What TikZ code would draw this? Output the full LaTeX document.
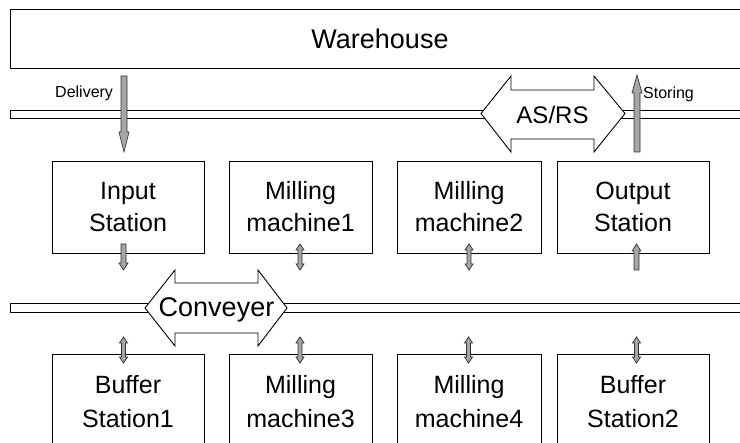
\documentclass[tikz,border=0pt]{standalone}
\usepackage{fontspec}
\setmainfont{Liberation Sans}
\definecolor{arrowgray}{RGB}{166,166,166}
\begin{document}
\begin{tikzpicture}[x=1pt,y=-1pt,
  box/.style={draw,line width=0.9pt,fill=white,inner sep=0pt,align=center},
  toptext/.style={font=\fontsize{25}{32}\selectfont},
  bottext/.style={font=\fontsize{25}{34}\selectfont},
  rail/.style={draw,line width=0.9pt,fill=white},
  bigarrow/.style={draw,line width=0.9pt,fill=white,line join=miter},
  blk/.style={draw=black!80,line width=0.7pt,fill=arrowgray},
  small/.style={font=\fontsize{16}{18}\selectfont,inner sep=0pt}]
\useasboundingbox (0,0) rectangle (740,443);
\newcommand\sarrow[6]{\filldraw[blk] (#1-#5,#2) -- (#1-#5,#3) -- (#1-#6,#3) -- (#1,#4) -- (#1+#6,#3) -- (#1+#5,#3) -- (#1+#5,#2) -- cycle;}
\newcommand\darrow[7]{\filldraw[blk] (#1,#2) -- (#1+#7,#3) -- (#1+#6,#3) -- (#1+#6,#4) -- (#1+#7,#4) -- (#1,#5) -- (#1-#7,#4) -- (#1-#6,#4) -- (#1-#6,#3) -- (#1-#7,#3) -- cycle;}

% warehouse
\node[box,minimum width=740,minimum height=59,font=\fontsize{27}{30}\selectfont] (wh) at (380,38.5) {Warehouse};

% rails
\draw[rail] (10,110) rectangle (750,118.5);
\draw[rail] (10,303.5) rectangle (750,312);

% AS/RS
\draw[bigarrow] (481,113.5) -- (511,76) -- (511,90) -- (594,90) -- (594,76) -- (625,113.5) -- (594,152) -- (594,139) -- (511,139) -- (511,152) -- cycle;
\node[anchor=base,inner sep=0pt,font=\fontsize{24}{28}\selectfont] (asrs) at (552.5,123.3) {AS/RS};

% Conveyer
\draw[bigarrow] (145,308) -- (175,270) -- (175,283) -- (258,283) -- (258,270) -- (287,308) -- (258,346) -- (258,333) -- (175,333) -- (175,346) -- cycle;
\node[anchor=base,inner sep=0pt,font=\fontsize{27}{30}\selectfont] (conv) at (216.5,317) {Conveyer};

% delivery / storing
\sarrow{124}{76}{132}{152}{3}{5}
\node[small,anchor=base west] (deliv) at (55,97.5) {Delivery};
\sarrow{637}{152}{93}{75}{3}{5}
\node[small,anchor=base west] (stor) at (643,98.5) {Storing};

% top boxes
\node[box,toptext,minimum width=152,minimum height=92] (input) at (128,207) {Input\\Station};
\node[box,toptext,minimum width=143,minimum height=92] (mm1) at (300.5,207) {Milling\\machine1};
\node[box,toptext,minimum width=144,minimum height=92] (mm2) at (469,207) {Milling\\machine2};
\node[box,toptext,minimum width=152,minimum height=92] (output) at (633,207) {Output\\Station};

% bottom boxes
\node[box,bottext,minimum width=152,minimum height=96] (buf1) at (128,402) {Buffer\\Station1};
\node[box,bottext,minimum width=143,minimum height=96] (mm3) at (300.5,402) {Milling\\machine3};
\node[box,bottext,minimum width=144,minimum height=96] (mm4) at (469,402) {Milling\\machine4};
\node[box,bottext,minimum width=152,minimum height=96] (buf2) at (633,402) {Buffer\\Station2};

% small arrows upper row
\sarrow{123.5}{244}{263}{270}{2.5}{4.5}
\darrow{300}{244}{250}{264}{270}{2}{4}
\darrow{469}{244}{250}{264}{270}{2}{4}
\sarrow{636.5}{270}{251}{244}{2.5}{4.3}

% small arrows lower row
\darrow{123.5}{337}{343}{357}{363}{2}{4}
\darrow{300}{337}{343}{357}{363}{2}{4}
\darrow{468.5}{337}{343}{357}{363}{2}{4}
\darrow{636.5}{337}{343}{357}{363}{2}{4}
\end{tikzpicture}
\end{document}
